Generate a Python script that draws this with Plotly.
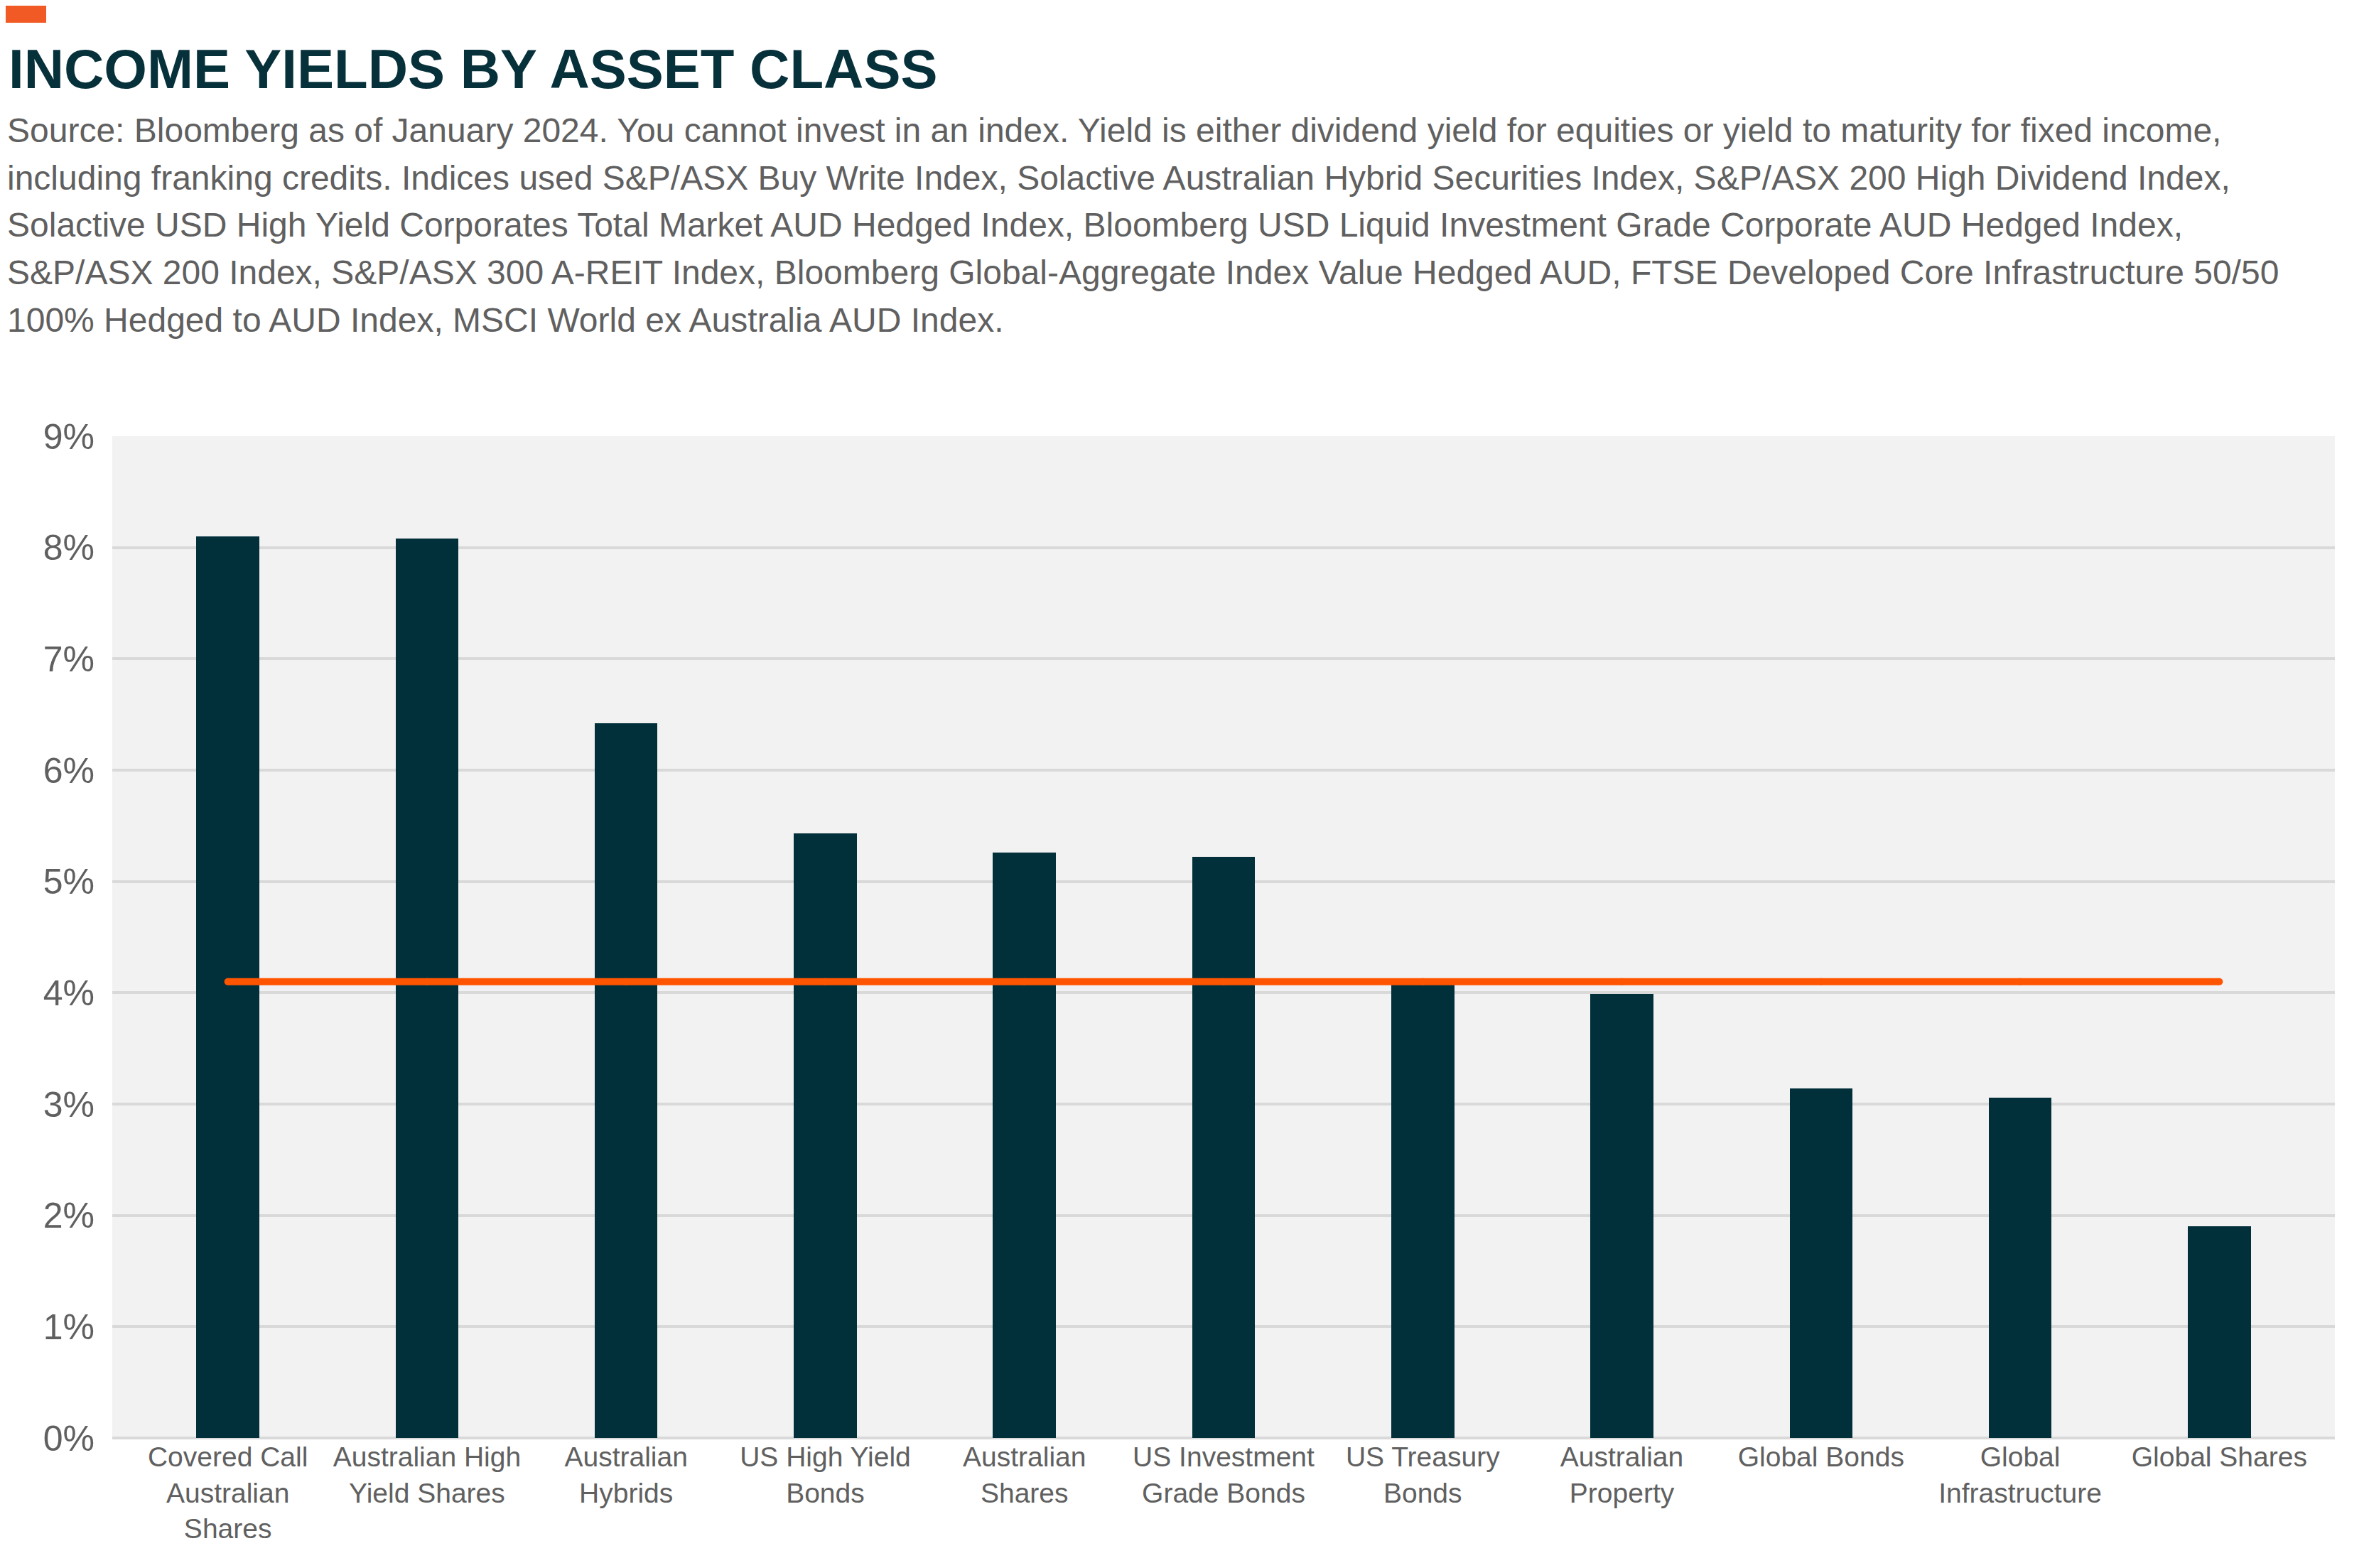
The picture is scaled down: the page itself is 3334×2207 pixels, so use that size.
import plotly.graph_objects as go

categories = [
    "Covered Call<br>Australian<br>Shares",
    "Australian High<br>Yield Shares",
    "Australian<br>Hybrids",
    "US High Yield<br>Bonds",
    "Australian<br>Shares",
    "US Investment<br>Grade Bonds",
    "US Treasury<br>Bonds",
    "Australian<br>Property",
    "Global Bonds",
    "Global<br>Infrastructure",
    "Global Shares",
]
yields = [8.10, 8.08, 6.42, 5.43, 5.26, 5.22, 4.07, 3.99, 3.14, 3.06, 1.90]
average_yield = [4.10, 4.10, 4.10, 4.10, 4.10, 4.10, 4.10, 4.10, 4.10, 4.10, 4.10]
y_ticks = [0, 1, 2, 3, 4, 5, 6, 7, 8, 9]
y_tick_labels = ["0%", "1%", "2%", "3%", "4%", "5%", "6%", "7%", "8%", "9%"]

title_text = "INCOME YIELDS BY ASSET CLASS"
subtitle_lines = [
    "Source: Bloomberg as of January 2024. You cannot invest in an index. Yield is either dividend yield for equities or yield to maturity for fixed income,",
    "including franking credits. Indices used S&P/ASX Buy Write Index, Solactive Australian Hybrid Securities Index, S&P/ASX 200 High Dividend Index,",
    "Solactive USD High Yield Corporates Total Market AUD Hedged Index, Bloomberg USD Liquid Investment Grade Corporate AUD Hedged Index,",
    "S&P/ASX 200 Index, S&P/ASX 300 A-REIT Index, Bloomberg Global-Aggregate Index Value Hedged AUD, FTSE Developed Core Infrastructure 50/50",
    "100% Hedged to AUD Index, MSCI World ex Australia AUD Index.",
]

W, H = 3334, 2207
ML, MR, MT, MB = 150, 56, 606, 191
PW, PH = W - ML - MR, H - MT - MB


def px_x(x):
    return (x - ML) / PW


def px_y(y):
    return (H - y - MB) / PH


BAR = "#01303A"
ORANGE = "#FF5500"
GREY_TXT = "#606060"
FONT = "Liberation Sans, Arial, sans-serif"

fig = go.Figure()
fig.add_trace(go.Bar(
    x=categories, y=yields, marker=dict(color=BAR, line=dict(width=0)),
    width=0.316, showlegend=False, hoverinfo="x+y",
))
fig.add_trace(go.Scatter(
    x=categories, y=average_yield, mode="lines+markers",
    line=dict(color=ORANGE, width=10), marker=dict(color=ORANGE, size=10),
    showlegend=False,
))

annotations = [
    dict(
        text="<b>" + title_text + "</b>", xref="paper", yref="paper",
        x=px_x(2), y=px_y(43), xanchor="left", yanchor="top",
        showarrow=False, align="left",
        font=dict(family=FONT, size=78, color="#06303A"),
    )
]
line_tops = [147, 214, 280, 347, 414]
for line, top in zip(subtitle_lines, line_tops):
    annotations.append(dict(
        text=line, xref="paper", yref="paper",
        x=px_x(0), y=px_y(top), xanchor="left", yanchor="top",
        showarrow=False, align="left",
        font=dict(family=FONT, size=48, color=GREY_TXT),
    ))

fig.update_layout(
    width=W, height=H,
    margin=dict(l=ML, r=MR, t=MT, b=MB, pad=0),
    paper_bgcolor="white", plot_bgcolor="#F2F2F2",
    bargap=0,
    xaxis=dict(
        showgrid=False, zeroline=False, showline=False, ticks="",
        tickfont=dict(family=FONT, size=39, color=GREY_TXT),
        fixedrange=True,
    ),
    yaxis=dict(
        range=[0, 9], tickvals=y_ticks, ticktext=y_tick_labels,
        showgrid=True, gridcolor="#D9D9D9", gridwidth=3.5,
        zeroline=True, zerolinecolor="#D9D9D9", zerolinewidth=3.5,
        showline=False, ticks="", ticklabelstandoff=24,
        tickfont=dict(family=FONT, size=50, color=GREY_TXT),
        fixedrange=True,
    ),
    shapes=[dict(
        type="rect", xref="paper", yref="paper",
        x0=px_x(0), x1=px_x(57), y0=px_y(24), y1=px_y(0),
        fillcolor="#F15A24", line=dict(width=0), layer="above",
    )],
    annotations=annotations,
)

fig.write_html("out.html")
